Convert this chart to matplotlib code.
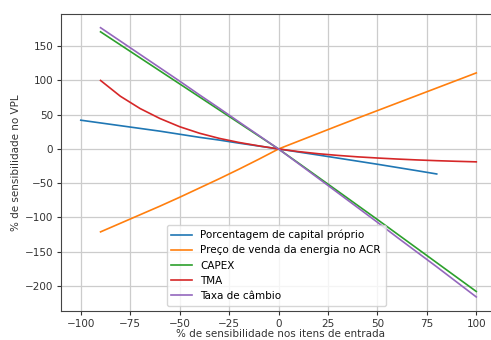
import matplotlib
matplotlib.use("Agg")
import matplotlib.pyplot as plt

x_blue = [-100, -90, -80, -70, -60, -50, -40, -30, -20, -10, 0, 10, 20, 30, 40, 50, 60, 70, 80]
y_blue = [42, 38, 34, 30, 26, 21.5, 17, 13, 8.5, 4.3, 0, -4.4, -8.8, -13.3, -17.8, -22.3, -27, -31.7, -36.5]

x_std = [-90, -80, -70, -60, -50, -40, -30, -20, -10, 0, 10, 20, 30, 40, 50, 60, 70, 80, 90, 100]
y_orange = [-121, -108.5, -96, -83.5, -70.5, -57, -43.5, -29.5, -15, 0, 11.3, 22.6, 33.9, 45, 56, 67, 78, 89, 100, 111]
y_green = [171, 152, 133, 114, 95, 76, 57, 38, 19, 0, -20.4, -41, -61.6, -82.3, -103, -124, -145, -166, -187, -208]
y_red = [100, 77, 59, 44.5, 32.5, 23, 15.5, 9.5, 4.5, 0, -3.8, -6.9, -9.4, -11.5, -13.2, -14.7, -16, -17.1, -18, -18.8]
y_purple = [177, 157.5, 138, 118.5, 99, 79, 59.5, 39.5, 19.8, 0, -21.2, -42.5, -64, -85.5, -107, -129, -150.5, -172, -194, -216]

labels = ["Porcentagem de capital próprio",
          "Preço de venda da energia no ACR",
          "CAPEX", "TMA", "Taxa de câmbio"]
colors = ["#1f77b4", "#ff7f0e", "#2ca02c", "#d62728", "#9467bd"]

fs = 7.5
fig = plt.figure(figsize=(4.91, 3.40), dpi=100)
ax = fig.add_axes([61/491, 1 - 311/340, (500 - 61)/491, (311 - 14)/340])

ax.plot(x_blue, y_blue, color=colors[0], lw=1.2, label=labels[0])
ax.plot(x_std, y_orange, color=colors[1], lw=1.2, label=labels[1])
ax.plot(x_std, y_green, color=colors[2], lw=1.2, label=labels[2])
ax.plot(x_std, y_red, color=colors[3], lw=1.2, label=labels[3])
ax.plot(x_std, y_purple, color=colors[4], lw=1.2, label=labels[4])

ax.set_xlim(-110, 112)
ax.set_ylim(-236.5, 197)
ax.set_xticks([-100, -75, -50, -25, 0, 25, 50, 75, 100])
ax.set_yticks([-200, -150, -100, -50, 0, 50, 100, 150])
ax.grid(True, color="#cccccc", lw=0.9)
ax.tick_params(labelsize=fs, length=3, pad=2.5, color="#333333", labelcolor="#333333")
for s in ax.spines.values():
    s.set_color("#444444")
ax.set_xlabel("% de sensibilidade nos itens de entrada", fontsize=fs, color="#333333", labelpad=0)
ax.set_ylabel("% de sensibilidade no VPL", fontsize=fs, color="#333333", labelpad=3)
ax.legend(loc="lower center", fontsize=fs, framealpha=0.8, handlelength=2.0,
          borderpad=0.45, labelspacing=0.5, bbox_to_anchor=(0.49, 0.0))

fig.savefig("out.png", dpi=100)
